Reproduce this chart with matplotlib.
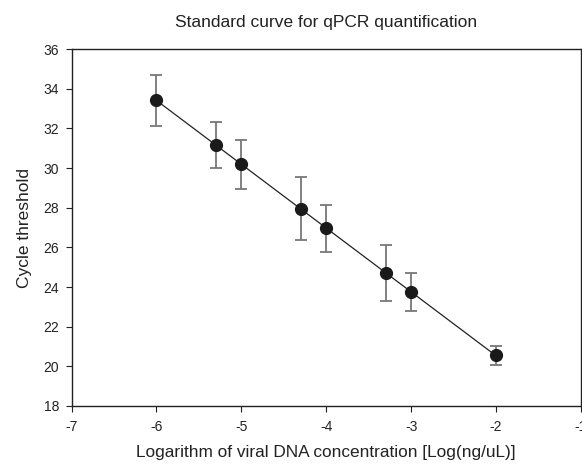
import numpy as np
import matplotlib
matplotlib.use('Agg')
import matplotlib.pyplot as plt

plt.rcParams['font.family'] = ['Liberation Sans', 'DejaVu Sans']
plt.rcParams['axes.unicode_minus'] = False

# log10 concentration, mean Ct and error bar half-widths
log_conc = [-6.0, -5.3, -5.0, -4.3, -4.0, -3.3, -3.0, -2.0]
ct_mean = [33.42, 31.16, 30.19, 27.95, 26.96, 24.72, 23.75, 20.55]
ct_err = [1.29, 1.14, 1.23, 1.58, 1.17, 1.40, 0.95, 0.48]

xticks = [-7, -6, -5, -4, -3, -2, -1]
yticks = [18, 20, 22, 24, 26, 28, 30, 32, 34, 36]

fig = plt.figure(figsize=(5.82, 4.68), dpi=100)
ax = fig.add_axes([0.123, 0.1325, 0.875, 0.7625])

# regression line over the data range
slope, icpt = np.polyfit(log_conc, ct_mean, 1)
xl = np.array([min(log_conc), max(log_conc)])
ax.plot(xl, slope*xl + icpt, color='#222222', lw=0.9, zorder=2)

eb = ax.errorbar(log_conc, ct_mean, yerr=ct_err, fmt='none', ecolor='#777777',
                 elinewidth=1.3, capsize=4, capthick=1.3, zorder=3)
for cap in eb[1]:
    cap.set_color('#333333')
ax.plot(log_conc, ct_mean, 'o', color='#1a1a1a', ms=8.5, zorder=4)

ax.set_xlim(-7, -1)
ax.set_ylim(18, 36)
ax.set_xticks(xticks)
ax.set_yticks(yticks)
ax.tick_params(direction='out', length=4, width=0.8, labelsize=10, colors='#222222')
ax.tick_params(axis='x', pad=6)
ax.tick_params(axis='y', pad=5)
for s in ax.spines.values():
    s.set_linewidth(1.0)
    s.set_color('#222222')

ax.set_title('Standard curve for qPCR quantification', fontsize=12.5, pad=16, color='#222222')
ax.set_xlabel('Logarithm of viral DNA concentration [Log(ng/uL)]', fontsize=12.4, labelpad=8,
              color='#222222')
ax.set_ylabel('Cycle threshold', fontsize=12.5, labelpad=8, color='#222222')

fig.savefig('out.png', dpi=100)
